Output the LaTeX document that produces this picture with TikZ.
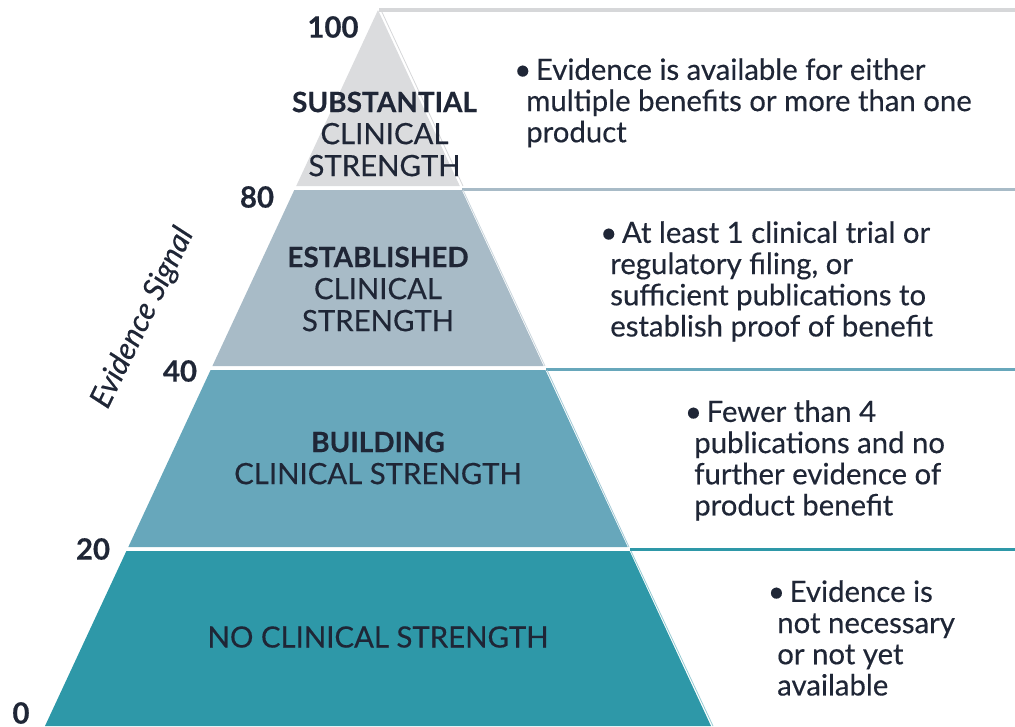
\documentclass[tikz,border=0pt]{standalone}
\usepackage{fontspec}
\setmainfont{Lato}[UprightFeatures={FakeBold=0.35},ItalicFeatures={FakeBold=0.35},BoldFeatures={FakeBold=0.3}]
\definecolor{txt}{HTML}{1F2636}
\definecolor{cA}{HTML}{DBDCDE}
\definecolor{cB}{HTML}{A8BBC7}
\definecolor{cC}{HTML}{67A7BB}
\definecolor{cD}{HTML}{2E98A8}
\definecolor{lA}{HTML}{D6D7D9}
\begin{document}
\begin{tikzpicture}[x=0.75pt,y=-0.75pt,
  every node/.style={text=txt, inner sep=0pt},
  tier/.style={font=\fontsize{22}{24}\selectfont, align=center},
  desc/.style={font=\fontsize{22}{23.4}\selectfont, align=left, anchor=north west},
  num/.style={font=\fontsize{22}{24}\selectfont\bfseries},
  topline/.style={line width=2.4pt},
  slant/.style={line width=0.6pt}]
\useasboundingbox (0,0) rectangle (1015,726);
% pyramid tiers
\fill[cA] (378,10) -- (459.8,186) -- (296.2,186) -- cycle;
\fill[cB] (294.3,190) -- (461.7,190) -- (543.6,366) -- (212.4,366) -- cycle;
\fill[cC] (210.6,370) -- (545.4,370) -- (627.7,547) -- (128.3,547) -- cycle;
\fill[cD] (126.4,551) -- (629.6,551) -- (711,726) -- (45,726) -- cycle;
% right side outlines
\draw[topline, lA] (379,10) -- (1015,10);
\draw[slant, lA] (381,10) -- (463,186);
\draw[topline, cB] (462,189.5) -- (1015,189.5);
\draw[slant, cB!60] (463,190) -- (545,366);
\draw[topline, cC] (546,369.5) -- (1015,369.5);
\draw[slant, cC!60] (547,370) -- (629,547);
\draw[topline, cD] (630,549.5) -- (1015,549.5);
\draw[slant, cD!50] (631,551) -- (713,726);
% scale numbers
\node[num] (n100) at (333,27) {100};
\node[num] (n80) at (257,197) {80};
\node[num] (n40) at (180,371) {40};
\node[num] (n20) at (93,549) {20};
\node[num] (n0) at (21,713) {0};
\node[font=\fontsize{23}{24}\selectfont\itshape, rotate=64] (axis) at (143,318) {Evidence Signal};
% tier labels
\node[tier] (t1) at (384.5,134) {{\fontsize{21}{24}\selectfont\bfseries SUBSTANTIAL}\\CLINICAL\\STRENGTH};
\node[tier] (t2) at (378,289) {{\fontsize{21}{24}\selectfont\bfseries ESTABLISHED}\\CLINICAL\\STRENGTH};
\node[tier] (t3) at (378,458) {{\fontsize{21}{24}\selectfont\bfseries BUILDING}\\CLINICAL STRENGTH};
\node[tier] (t4) at (378,637) {NO CLINICAL STRENGTH};
% descriptions
\node[desc] (d1) at (526,58) {\hspace*{-9pt}\textbullet\hspace{3.5pt}Evidence is available for either\\multiple benefits or more than one\\product};
\node[desc] (d2) at (610,221) {\hspace*{-7.5pt}\textbullet\hspace{3.5pt}At least 1 clinical trial or\\regulatory filing, or\\sufficient publications to\\establish proof of benefit};
\node[desc] (d3) at (694,400) {\hspace*{-7pt}\textbullet\hspace{3.5pt}Fewer than 4\\publications and no\\further evidence of\\product benefit};
\node[desc] (d4) at (777,580) {\hspace*{-7pt}\textbullet\hspace{3.5pt}Evidence is\\not necessary\\or not yet\\available};
\end{tikzpicture}
\end{document}
